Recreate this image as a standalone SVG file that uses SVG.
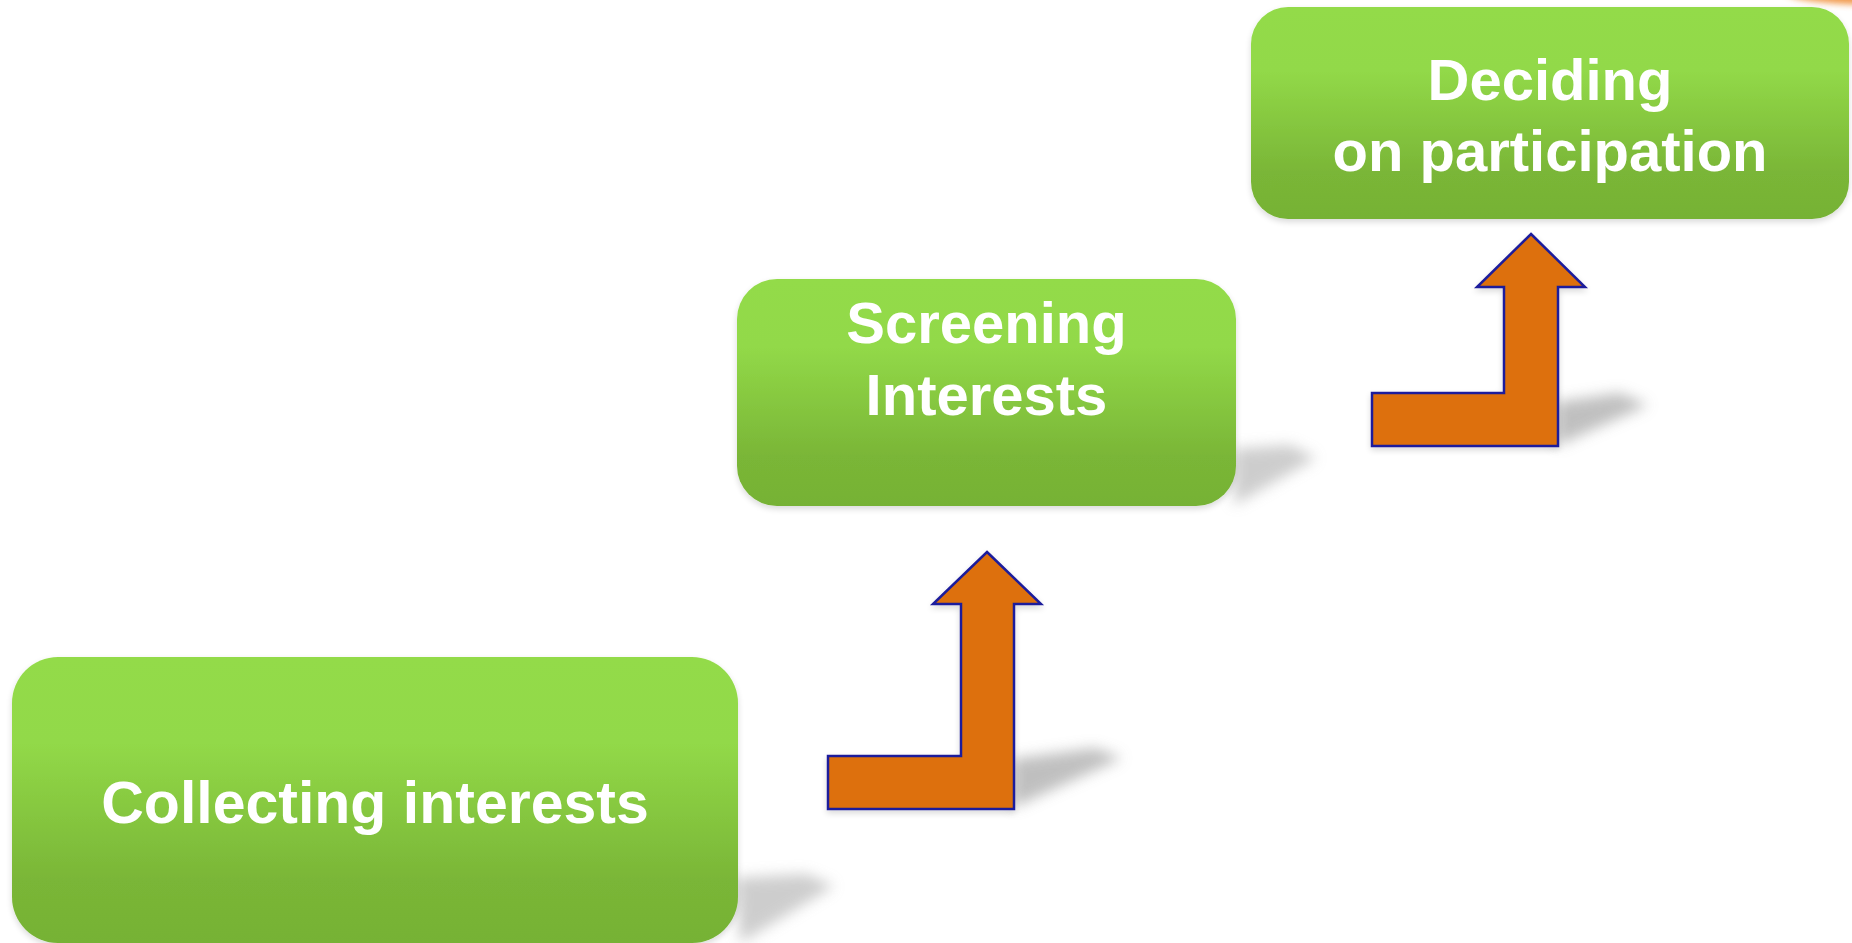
<svg xmlns="http://www.w3.org/2000/svg" width="1852" height="943" viewBox="0 0 1852 943">
<style>
.box{fill:url(#g);filter:url(#ds)}
.lbl{font-family:"Liberation Sans",Arial,sans-serif;font-weight:bold;font-size:58px;fill:#ffffff;text-anchor:middle}
.arr{fill:#DD7008;stroke:#1C1C9C;stroke-width:2.5;stroke-linejoin:miter;filter:url(#ds)}
.sh{fill:#bdbdbd;opacity:0.75;filter:url(#blur)}
.sha{fill:#b0b0b0;opacity:0.8;filter:url(#blur)}
</style>
<defs>
<linearGradient id="g" x1="0" y1="0" x2="0" y2="1">
<stop offset="0" stop-color="#93DB49"/>
<stop offset="0.3" stop-color="#92D948"/>
<stop offset="0.78" stop-color="#7AB637"/>
<stop offset="1" stop-color="#76B234"/>
</linearGradient>
<filter id="blur" x="-50%" y="-50%" width="200%" height="200%"><feGaussianBlur stdDeviation="7"/></filter>
<filter id="oblur" x="-50%" y="-100%" width="200%" height="300%"><feGaussianBlur stdDeviation="3"/></filter>
<filter id="ds" x="-10%" y="-10%" width="120%" height="130%">
<feGaussianBlur in="SourceAlpha" stdDeviation="3"/>
<feOffset dy="3" result="o"/>
<feComponentTransfer><feFuncA type="linear" slope="0.15"/></feComponentTransfer>
<feMerge><feMergeNode/><feMergeNode in="SourceGraphic"/></feMerge>
</filter>
</defs>
<rect width="1852" height="943" fill="#ffffff"/>
<ellipse cx="1880" cy="-8" rx="95" ry="13" fill="#F0903A" opacity="0.9" filter="url(#oblur)"/>
<g id="shadows">
<path class="sh" d="M736,878 L806,874 L834,886 L740,943 Z"/>
<path class="sh" d="M1234,449 L1290,445 L1316,458 L1234,505 Z"/>
<path class="sha" d="M1012,759 L1095,748 L1122,758 L1012,808 Z"/>
<path class="sha" d="M1556,402 L1620,393 L1648,405 L1556,446 Z"/>
</g>
<g id="node-collecting">
<rect class="box" x="12" y="657" width="726" height="286" rx="46" ry="46"/>
<text class="lbl" x="375" y="823" style="font-size:59px">Collecting interests</text>
</g>
<g id="node-screening">
<rect class="box" x="737" y="279" width="499" height="227" rx="40" ry="40"/>
<text class="lbl" x="986.5" y="343">Screening</text>
<text class="lbl" x="986.5" y="415">Interests</text>
</g>
<g id="node-deciding">
<rect class="box" x="1251" y="7" width="598" height="212" rx="37" ry="37"/>
<text class="lbl" x="1550" y="100">Deciding</text>
<text class="lbl" x="1550" y="171">on participation</text>
</g>
<g id="connectors">
<path class="arr" d="M987,552 L1041,604 L1014,604 L1014,809 L828,809 L828,756 L961,756 L961,604 L933,604 Z"/>
<path class="arr" d="M1531,234 L1585,287 L1558,287 L1558,446 L1372,446 L1372,393 L1504,393 L1504,287 L1477,287 Z"/>
</g>
</svg>
